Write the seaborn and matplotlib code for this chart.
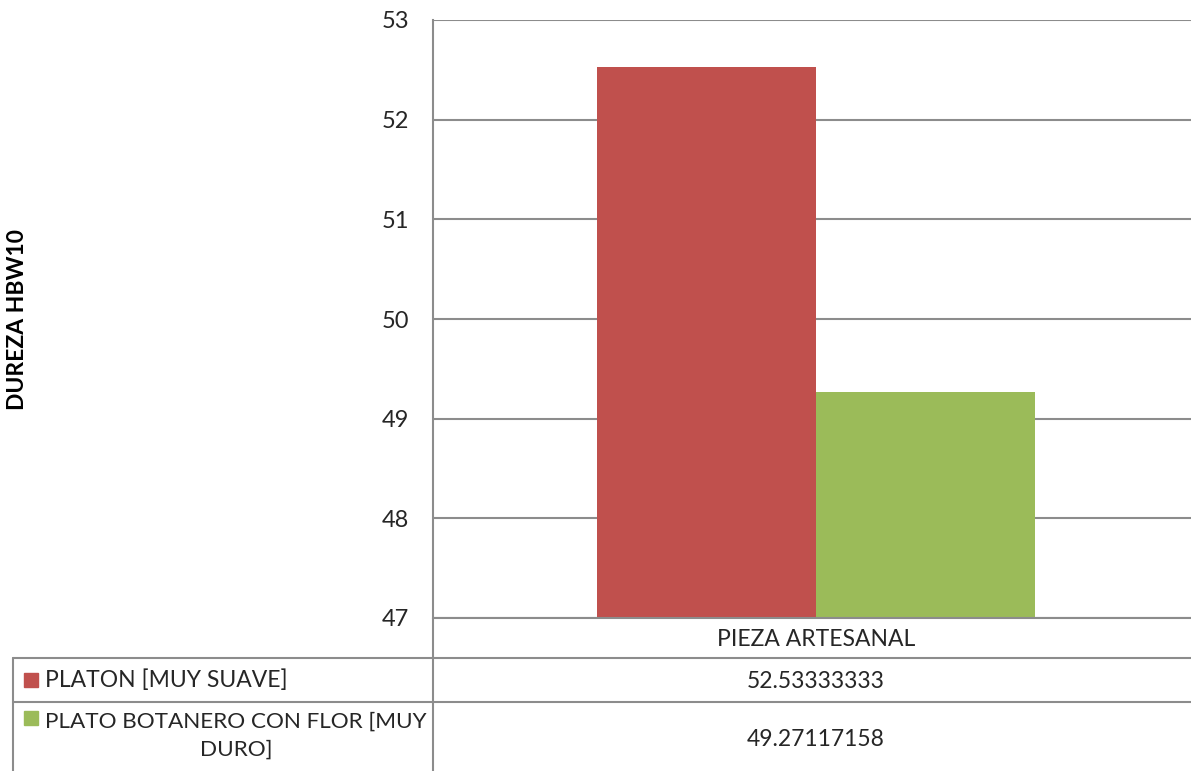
import matplotlib
matplotlib.use("Agg")
import matplotlib.pyplot as plt
from matplotlib.lines import Line2D
from matplotlib.patches import Rectangle
import pandas as pd
import seaborn as sns

# Data
categorias = ["PIEZA ARTESANAL"]
series = ["PLATON [MUY SUAVE]", "PLATO BOTANERO CON FLOR [MUY\nDURO]"]
valores = [52.53333333, 49.27117158]
colores = ["#C0504D", "#9BBB59"]
y_ticks = [47, 48, 49, 50, 51, 52, 53]

df = pd.DataFrame({"pieza": categorias * len(series), "serie": series, "dureza": valores})

sns.set_theme(style="white")
plt.rcParams["font.family"] = ["Lato", "DejaVu Sans"]

W, H = 1191, 771
fig = plt.figure(figsize=(W / 100, H / 100), dpi=100)

def px(x):
    return x / W

def py(y):
    return 1 - y / H

ax = fig.add_axes([px(433), py(618), px(1191) - px(433), py(20) - py(618)])
sns.barplot(data=df, x="pieza", y="dureza", hue="serie", palette=colores,
            width=0.8, saturation=1, legend=False, linewidth=0, ax=ax)

grid_color = "#8C8C8C"
ax.set_ylim(y_ticks[0], y_ticks[-1])
ax.set_xlim(-0.6995, 0.685)
ax.set_yticks(y_ticks)
ax.set_yticklabels([str(t) for t in y_ticks], fontsize=17)
ax.tick_params(axis="y", length=0, pad=17)
ax.set_xticks([])
ax.set_xlabel("")
ax.set_ylabel("")
ax.yaxis.grid(True, color=grid_color, linewidth=1.5)
ax.set_axisbelow(True)
for s in ["top", "right", "bottom"]:
    ax.spines[s].set_visible(False)
ax.spines["left"].set_color(grid_color)
ax.spines["left"].set_linewidth(1.5)

fig.text(px(18), py(319), "DUREZA HBW10", rotation=90, fontsize=16.5, fontweight="bold",
         ha="center", va="center", color="black")

# Data table under the chart
def hline(y, x0, x1=W):
    fig.add_artist(Line2D([px(x0), px(x1)], [py(y), py(y)], transform=fig.transFigure,
                          color=grid_color, linewidth=1.5))

def vline(x, y0, y1):
    fig.add_artist(Line2D([px(x), px(x)], [py(y0), py(y1)], transform=fig.transFigure,
                          color=grid_color, linewidth=1.5))

hline(618, 433)
hline(658, 13)
hline(702, 13)
vline(433, 618, H)
vline(13, 658, H)

tsize = 16.5
col_center = 816
fig.text(px(col_center), py(639), categorias[0], fontsize=tsize, ha="center", va="center")

row_y = [681, 740]
sq_y = [680, 718]
text_y = [680, 736]
for i, (nombre, valor, color) in enumerate(zip(series, valores, colores)):
    fig.add_artist(Rectangle((px(24), py(sq_y[i] + 7)), px(14), py(0) - py(14),
                             transform=fig.transFigure, color=color))
    if "\n" in nombre:
        fig.text(px(236), py(text_y[i]), nombre, fontsize=16.2, ha="center", va="center",
                 multialignment="center", linespacing=1.5)
    else:
        fig.text(px(45), py(text_y[i]), nombre, fontsize=tsize, ha="left", va="center")
    fig.text(px(col_center), py(row_y[i]), f"{valor:.8f}", fontsize=tsize, ha="center", va="center")

fig.savefig("out.png", dpi=100, facecolor="white")
